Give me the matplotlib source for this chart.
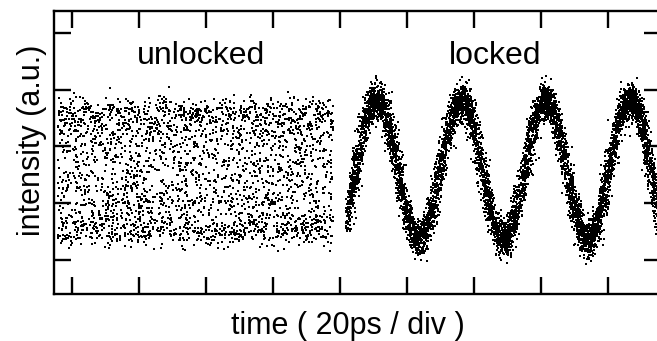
import numpy as np
import matplotlib.pyplot as plt

plt.rcParams['font.family'] = ['Liberation Sans', 'DejaVu Sans']

# values (x in divisions, y in tick units)
X_TICKS = [0, 1, 2, 3, 4, 5, 6, 7, 8]
Y_TICKS = [0, 1, 2, 3, 4]

UNLOCKED_X = [-0.22, 3.90]          # span of the unlocked trace
UNLOCKED_Y = [0.30, 2.80]           # envelope of the unlocked trace
LOCKED_X = [4.09, 8.80]             # span of the locked trace
LOCKED_PEAKS_X = [4.55, 5.84, 7.09, 8.33]
LOCKED_TROUGHS_X = [5.16, 6.43, 7.69]
LOCKED_HIGH = 2.82
LOCKED_LOW = 0.35

N_UNLOCKED = 2800
N_LOCKED = 7000

rng = np.random.default_rng(7)

# unlocked: sampled at random phase -> smeared band
xu = rng.uniform(UNLOCKED_X[0], UNLOCKED_X[1], N_UNLOCKED)
cu = np.mean(UNLOCKED_Y)
au = (UNLOCKED_Y[1] - UNLOCKED_Y[0]) / 2 - 0.12
yu = cu + au * np.cos(rng.uniform(0, 2 * np.pi, N_UNLOCKED)) + rng.normal(0, 0.12, N_UNLOCKED)

# locked: stable waveform through the read peaks/troughs
period = np.mean(np.diff(LOCKED_PEAKS_X))
cl = (LOCKED_HIGH + LOCKED_LOW) / 2
al = (LOCKED_HIGH - LOCKED_LOW) / 2
xl = rng.uniform(LOCKED_X[0], LOCKED_X[1], N_LOCKED)
tl = xl + rng.normal(0, 0.04, N_LOCKED)
yl = cl + al * np.cos(2 * np.pi * (tl - LOCKED_PEAKS_X[0]) / period) + rng.normal(0, 0.15, N_LOCKED)

fig = plt.figure(figsize=(6.57, 3.41), dpi=100)
ax = fig.add_axes([0.0822, 0.138, 0.924, 0.83])

ax.scatter(xu, yu, s=0.8, c='black', marker='s', linewidths=0)
ax.scatter(xl, yl, s=0.8, c='black', marker='s', linewidths=0)

ax.set_xlim(-0.27, 8.73 + 0.06)
ax.set_ylim(-0.6, 4.39)
ax.set_xticks(X_TICKS)
ax.set_yticks(Y_TICKS)
ax.set_xticklabels([])
ax.set_yticklabels([])
ax.tick_params(direction='in', length=12.5, width=1.7, top=True, right=True)
for s in ax.spines.values():
    s.set_linewidth(1.7)

ax.text(1.92, 3.6, 'unlocked', fontsize=23, ha='center', va='center')
ax.text(6.32, 3.6, 'locked', fontsize=23, ha='center', va='center')

ax.set_xlabel('time ( 20ps / div )', fontsize=22)
ax.set_ylabel('intensity (a.u.)', fontsize=22)
ax.xaxis.set_label_coords(0.484, -0.112, transform=ax.transAxes)
ax.yaxis.set_label_coords(-0.036, 0.544, transform=ax.transAxes)
ax.xaxis.label.set_va('center')
ax.yaxis.label.set_va('center')

fig.savefig('out.png', dpi=100)
